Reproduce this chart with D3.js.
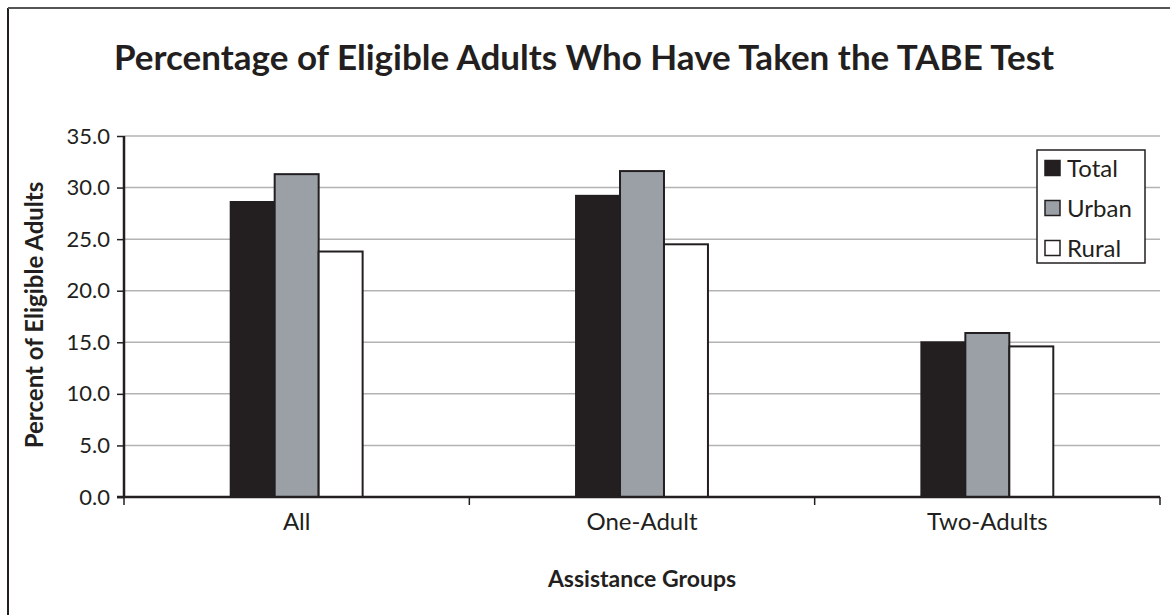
<!DOCTYPE html>
<html>
<head>
<meta charset="utf-8">
<script src="https://cdn.jsdelivr.net/npm/d3@7"></script>
<style>
  html, body { margin: 0; padding: 0; background: #fff; }
  svg { display: block; }
  text { font-family: Lato, "Open Sans", sans-serif; fill: #231f20; }
</style>
</head>
<body>
<svg id="chart" width="1170" height="615"></svg>
<script>
const categories = ["All", "One-Adult", "Two-Adults"];
const seriesNames = ["Total", "Urban", "Rural"];
const totalValues = [28.6, 29.2, 15.0];
const urbanValues = [31.3, 31.6, 15.9];
const ruralValues = [23.8, 24.5, 14.6];
const yTicks = [0, 5, 10, 15, 20, 25, 30, 35];
const seriesColors = ["#231f20", "#9aa0a6", "#ffffff"];

const seriesValues = [totalValues, urbanValues, ruralValues];
const svg = d3.select("#chart");
const ink = "#231f20";

// frame (left and top edges)
svg.append("line").attr("x1", 8).attr("x2", 8).attr("y1", 8).attr("y2", 615)
  .attr("stroke", ink).attr("stroke-width", 2);
svg.append("line").attr("x1", 8).attr("x2", 1170).attr("y1", 8).attr("y2", 8)
  .attr("stroke", "#555").attr("stroke-width", 2);

const pLeft = 124, pRight = 1160, pTop = 136, pBottom = 497;
const x0 = d3.scaleBand().domain(categories).range([pLeft, pRight]).padding(0);
const bw = x0.bandwidth();
const x1 = d3.scaleBand().domain(seriesNames).range([bw * 0.309, bw * 0.691]).padding(0);
const y = d3.scaleLinear().domain([0, 35]).range([pBottom, pTop]);

// gridlines
svg.append("g").selectAll("line").data(yTicks.filter(d => d > 0)).join("line")
  .attr("x1", pLeft).attr("x2", pRight)
  .attr("y1", d => y(d)).attr("y2", d => y(d))
  .attr("stroke", "#b3b3b3").attr("stroke-width", 1.5);

// bars
const groups = svg.append("g").selectAll("g").data(categories).join("g")
  .attr("transform", d => `translate(${x0(d)},0)`);
groups.selectAll("rect").data((c, i) => seriesNames.map((s, j) => ({s, j, v: seriesValues[j][i]})))
  .join("rect")
  .attr("x", d => x1(d.s))
  .attr("y", d => y(d.v))
  .attr("width", x1.bandwidth())
  .attr("height", d => y(0) - y(d.v))
  .attr("fill", d => seriesColors[d.j])
  .attr("stroke", ink).attr("stroke-width", 2);

// y axis
const yAxis = d3.axisLeft(y).tickValues(yTicks).tickFormat(d3.format(".1f")).tickSize(7).tickPadding(7);
const yg = svg.append("g").attr("transform", `translate(${pLeft},0)`).call(yAxis);
yg.select(".domain").attr("stroke", ink).attr("stroke-width", 2.5).attr("d", `M0,${pTop}V${pBottom}`);
yg.selectAll(".tick line").attr("stroke", ink).attr("stroke-width", 1.5);
yg.selectAll(".tick text").style("font-size", "22px").attr("fill", ink)
  .style("font-family", "Lato, 'Open Sans', sans-serif");

// x axis
const xg = svg.append("g").attr("transform", `translate(0,${pBottom})`);
xg.append("line").attr("x1", pLeft - 7).attr("x2", pRight).attr("y1", 0).attr("y2", 0)
  .attr("stroke", ink).attr("stroke-width", 2.5);
const boundaries = categories.map(c => x0(c)).concat([pRight]);
xg.selectAll("line.tk").data(boundaries).join("line").attr("class", "tk")
  .attr("x1", d => d).attr("x2", d => d).attr("y1", 0).attr("y2", 8)
  .attr("stroke", ink).attr("stroke-width", 1.5);
xg.selectAll("text").data(categories).join("text")
  .attr("x", d => x0(d) + bw / 2).attr("y", 33)
  .attr("text-anchor", "middle").style("font-size", "24px").text(d => d);

// titles
svg.append("text").attr("x", 584).attr("y", 70).attr("text-anchor", "middle")
  .style("font-size", "35px").style("font-weight", "bold")
  .text("Percentage of Eligible Adults Who Have Taken the TABE Test");
svg.append("text").attr("x", 642).attr("y", 587).attr("text-anchor", "middle")
  .style("font-size", "23px").style("font-weight", "bold").text("Assistance Groups");
svg.append("text").attr("transform", `translate(43,315) rotate(-90)`)
  .attr("text-anchor", "middle")
  .style("font-size", "24px").style("font-weight", "bold").text("Percent of Eligible Adults");

// legend
const lg = svg.append("g").attr("transform", "translate(1037,150)");
lg.append("rect").attr("x", 0).attr("y", 0).attr("width", 108).attr("height", 113)
  .attr("fill", "#fff").attr("stroke", ink).attr("stroke-width", 1.5);
const li = lg.selectAll("g").data(seriesNames).join("g")
  .attr("transform", (d, i) => `translate(8,${18 + i * 40})`);
li.append("rect").attr("x", 0).attr("y", -7.5).attr("width", 15).attr("height", 15)
  .attr("fill", (d, i) => seriesColors[i]).attr("stroke", ink).attr("stroke-width", 1.5);
li.append("text").attr("x", 22).attr("y", 8.5).style("font-size", "24px").text(d => d);
</script>
</body>
</html>
